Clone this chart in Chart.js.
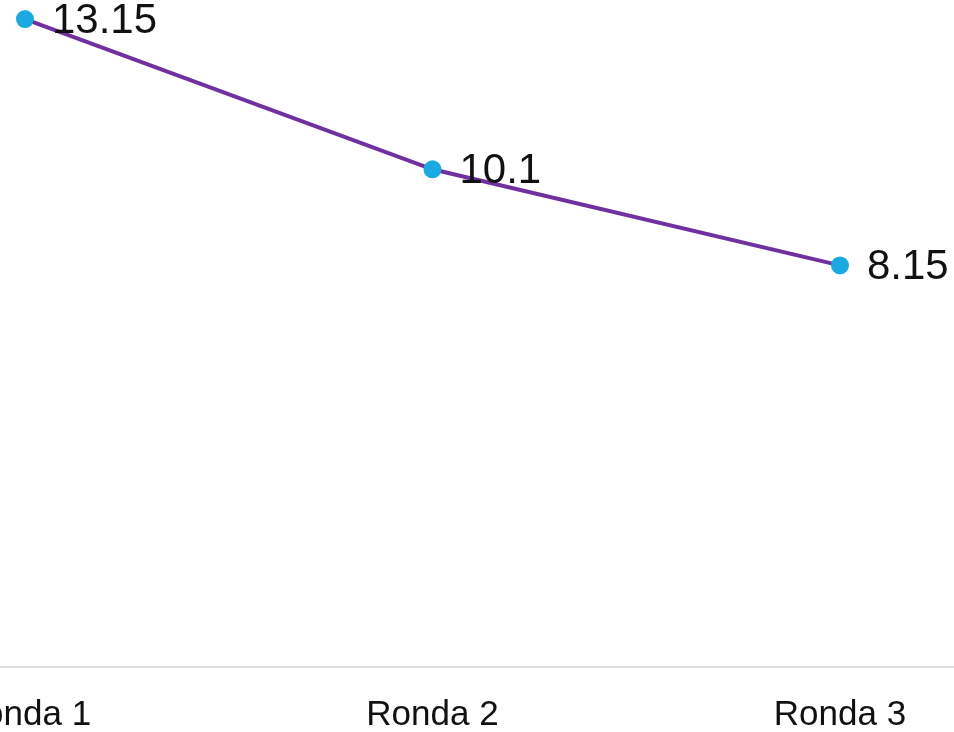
<!DOCTYPE html>
<html>
<head>
<meta charset="utf-8">
<script src="https://cdn.jsdelivr.net/npm/chart.js@4"></script>
<style>
  html, body { margin: 0; padding: 0; background: #ffffff; overflow: hidden; }
  #wrap { position: absolute; left: 0; top: 0; width: 954px; height: 732px; }
</style>
</head>
<body>
<div id="wrap"><canvas id="c"></canvas></div>
<script>
const categories = ["Ronda 1", "Ronda 2", "Ronda 3"];
const values = [13.15, 10.1, 8.15];
const valueLabels = ["13.15", "10.1", "8.15"];

const points = values.map((v, i) => ({ x: i, y: v }));

const labelPlugin = {
  id: 'valueLabels',
  afterDatasetsDraw(chart) {
    const ctx = chart.ctx;
    const meta = chart.getDatasetMeta(0);
    ctx.save();
    ctx.font = '42px "Liberation Sans", Arial, sans-serif';
    ctx.fillStyle = '#111111';
    ctx.textAlign = 'left';
    ctx.textBaseline = 'middle';
    meta.data.forEach((el, i) => {
      ctx.fillText(valueLabels[i], el.x + 27, el.y + 2);
    });
    ctx.restore();
  }
};

new Chart(document.getElementById('c'), {
  type: 'line',
  data: {
    datasets: [{
      data: points,
      borderColor: '#7030a0',
      borderWidth: 4,
      pointBackgroundColor: '#1ba9e1',
      pointBorderColor: '#1ba9e1',
      pointRadius: 9,
      pointBorderWidth: 0,
      tension: 0,
      clip: false
    }]
  },
  options: {
    responsive: true,
    maintainAspectRatio: false,
    animation: false,
    layout: { padding: 0, autoPadding: false },
    plugins: { legend: { display: false }, tooltip: { enabled: false } },
    scales: {
      x: {
        type: 'linear',
        min: -0.0613,
        max: 2.2798,
        grid: { display: false, drawTicks: false },
        border: { display: true, color: '#dddddd', width: 2 },
        afterBuildTicks(scale) {
          scale.ticks = categories.map((c, i) => ({ value: i }));
        },
        afterFit(scale) {
          scale.paddingLeft = 0;
          scale.paddingRight = 0;
          scale.height = 65;
        },
        ticks: {
          autoSkip: false,
          maxRotation: 0,
          padding: 27,
          color: '#111111',
          font: { family: '"Liberation Sans", Arial, sans-serif', size: 35 },
          callback: (v) => categories[v] !== undefined ? categories[v] : ''
        }
      },
      y: {
        display: false,
        min: 0,
        max: 13.536
      }
    }
  },
  plugins: [labelPlugin]
});
</script>
</body>
</html>
